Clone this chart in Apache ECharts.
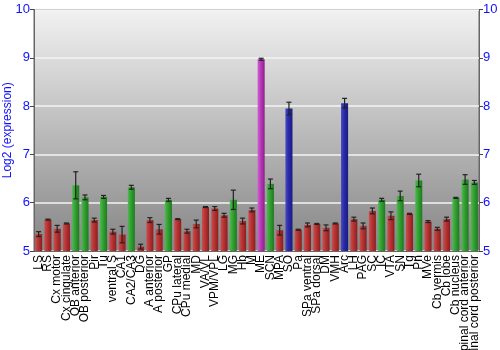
<!DOCTYPE html>
<html><head><meta charset="utf-8">
<script src="https://cdn.jsdelivr.net/npm/echarts@6/dist/echarts.min.js"></script>
<style>html,body{margin:0;padding:0;background:#fff}#c{width:500px;height:350px}</style>
</head><body><div id="c"></div>
<script>
const categories = ["LS","RS","Cx motor","Cx cingulate","OB anterior","OB posterior","Pir","Tu","ventral S","CA1","CA2/CA3","DG","A anterior","A posterior","GP","CPu lateral","CPu medial","MD","VA/VL","VPM/VPL","LG","MG","Hb","M","ME","SCN","MPA","SO","Pa","SPa ventral","SPa dorsal","DM","VMH","Arc","LH","PAG","SC","IC","VTA","SN","Tg","Pn","MVe","Cb vermis","Cb lobe","Cb nucleus","spinal cord anterior","spinal cord posterior"];
const values = [5.35,5.65,5.46,5.57,6.36,6.11,5.64,6.12,5.40,5.34,6.32,5.09,5.64,5.45,6.06,5.66,5.41,5.56,5.91,5.88,5.74,6.06,5.62,5.85,8.97,6.39,5.43,7.95,5.44,5.54,5.56,5.48,5.57,8.06,5.66,5.52,5.83,6.06,5.73,6.14,5.77,6.46,5.61,5.46,5.66,6.10,6.48,6.42];
const errors = [0.05,0.01,0.07,0.01,0.28,0.05,0.04,0.03,0.05,0.17,0.04,0.05,0.05,0.10,0.03,0.01,0.04,0.08,0.01,0.04,0.04,0.20,0.06,0.04,0.02,0.10,0.10,0.13,0.01,0.04,0.01,0.06,0.01,0.10,0.04,0.06,0.06,0.03,0.08,0.10,0.01,0.13,0.02,0.03,0.04,0.01,0.10,0.04];
const groups = ["r","r","r","r","g","g","r","g","r","r","g","r","r","r","g","r","r","r","r","r","r","g","r","r","m","g","r","b","r","r","r","r","r","b","r","r","r","g","r","g","r","g","r","r","r","g","g","g"];
const yTicks = [5,6,7,8,9,10];

function grad(c1,c2,c3){return {type:'linear',x:0,y:0,x2:1,y2:0,colorStops:[{offset:0,color:c1},{offset:0.45,color:c2},{offset:1,color:c3}]};}
const palette = {
  r: grad('#c85050','#b83232','#8a1f1f'),
  g: grad('#50b850','#30a030','#1e7a1e'),
  m: grad('#d060d0','#b838b8','#8a208a'),
  b: grad('#4848c0','#2a2aa8','#1a1a80')
};

const chart = echarts.init(document.getElementById('c'), null, {renderer:'canvas'});
const axisY = (pos) => ({
  type:'value', min:yTicks[0], max:yTicks[yTicks.length-1], interval:1, position:pos,
  axisLine:{show:true,lineStyle:{color:'#666'}},
  axisTick:{show:true,length:4,lineStyle:{color:'#444'}},
  axisLabel:{color:'#1010ff',fontSize:13,fontFamily:'Liberation Sans',margin:4},
  splitLine:{show:pos==='left',lineStyle:{color:'#f4f4f4',width:1.5}}
});
chart.setOption({
  animation:false,
  grid:{left:34,right:21,top:9.5,bottom:99,show:true,borderColor:'#666',borderWidth:1,
    outerBoundsMode:'none',containLabel:false,
    backgroundColor:{type:'linear',x:0,y:0,x2:0,y2:1,colorStops:[{offset:0,color:'#f2f2f2'},{offset:1,color:'#858585'}]}},
  xAxis:{type:'category',data:categories,
    axisLine:{show:true,lineStyle:{color:'#666'}},axisTick:{show:false},
    axisLabel:{interval:0,rotate:90,color:'#000',fontSize:12,fontFamily:'Liberation Sans',margin:4}},
  yAxis:[Object.assign(axisY('left'),{name:'Log2 (expression)',nameLocation:'middle',nameGap:20,nameMoveOverlap:false,
    nameTextStyle:{color:'#1010ff',fontSize:12,fontFamily:'Liberation Sans'}}), axisY('right')],
  series:[
    {type:'bar',barCategoryGap:'24%',
      data:values.map((v,i)=>({value:v,itemStyle:{color:palette[groups[i]]}}))},
    {type:'custom',z:5,
      data:values.map((v,i)=>[i,v-errors[i],v+errors[i]]),
      renderItem:function(params,api){
        const lo=api.coord([api.value(0),api.value(1)]);
        const hi=api.coord([api.value(0),api.value(2)]);
        const hw=2.5;
        const st={stroke:'#222',lineWidth:1.2};
        return {type:'group',children:[
          {type:'line',shape:{x1:lo[0],y1:lo[1],x2:hi[0],y2:hi[1]},style:st},
          {type:'line',shape:{x1:lo[0]-hw,y1:lo[1],x2:lo[0]+hw,y2:lo[1]},style:st},
          {type:'line',shape:{x1:hi[0]-hw,y1:hi[1],x2:hi[0]+hw,y2:hi[1]},style:st}
        ]};
      }}
  ]
});
</script></body></html>
